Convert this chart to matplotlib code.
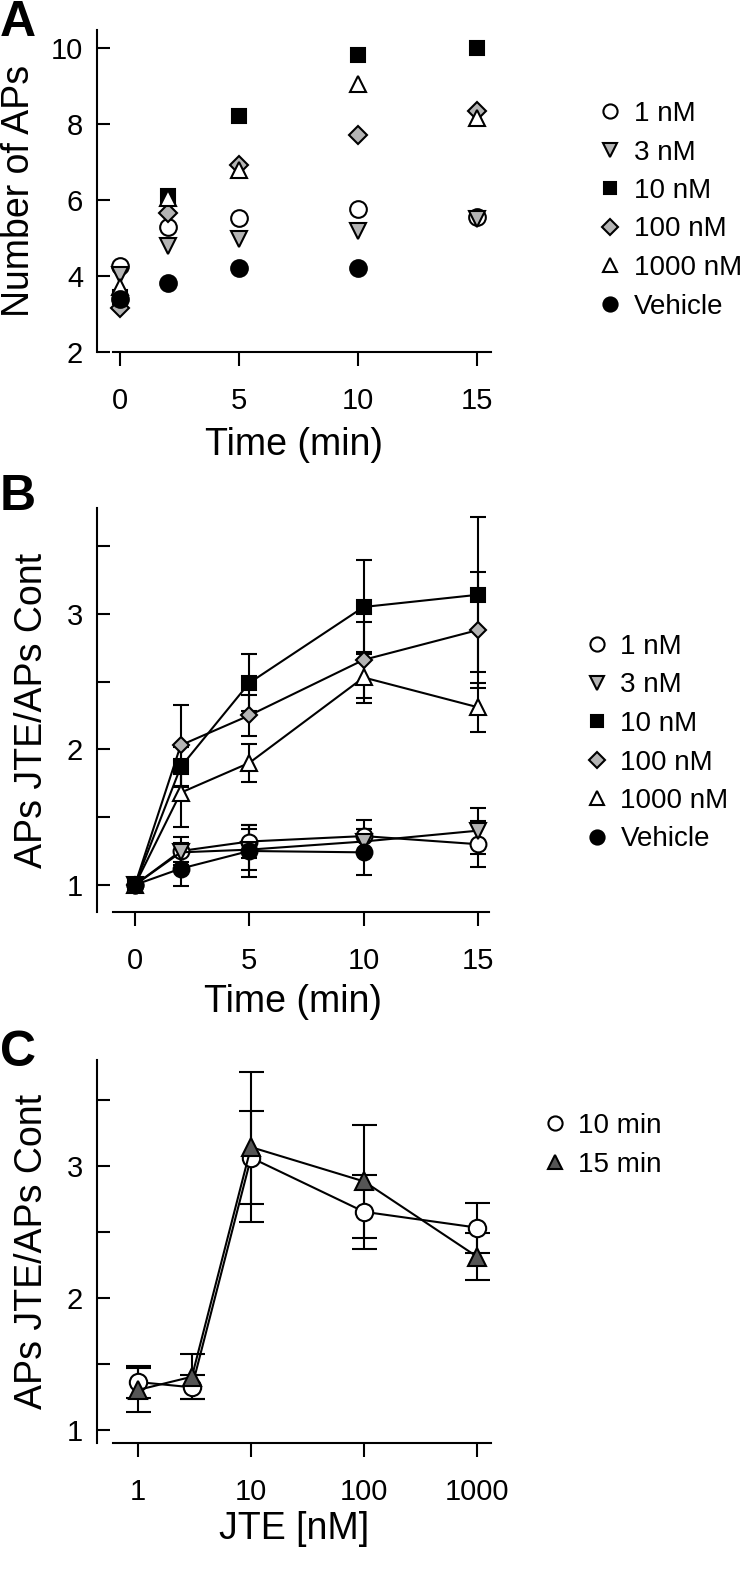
import numpy as np
import matplotlib.pyplot as plt
from matplotlib.lines import Line2D

plt.rcParams['font.family'] = ['Liberation Sans', 'DejaVu Sans']

## data
labels = ['1 nM', '3 nM', '10 nM', '100 nM', '1000 nM', 'Vehicle']
markers = ['o', 'v', 's', 'D', '^', 'o']
faces = ['white', '#b4b4b4', 'black', '#b4b4b4', 'white', 'black']
msizes = [12, 12, 10.5, 9, 12, 12]

# panel A: number of APs
time_a = [0, 2, 5, 10, 15]
a_1nM = [4.25, 5.28, 5.52, 5.75, 5.55]
a_3nM = [4.03, 4.80, 4.98, 5.18, 5.50]
a_10nM = [3.45, 6.10, 8.20, 9.80, 10.0]
a_100nM = [3.15, 5.65, 6.93, 7.72, 8.35]
a_1000nM = [3.72, 6.05, 6.78, 9.05, 8.15]
a_veh = [3.40, 3.82, 4.20, 4.20, np.nan]

# panel B: APs JTE / APs control, mean and error
time_b = [0, 2, 5, 10, 15]
b_1nM = [1, 1.25, 1.32, 1.36, 1.30]
b_1nM_err = [0, 0.10, 0.12, 0.12, 0.17]
b_3nM = [1, 1.24, 1.26, 1.32, 1.40]
b_3nM_err = [0, 0.07, 0.15, 0.09, 0.17]
b_10nM = [1, 1.87, 2.49, 3.05, 3.14]
b_10nM_err = [0, 0.15, 0.21, 0.35, 0.57]
b_100nM = [1, 2.03, 2.25, 2.66, 2.88]
b_100nM_err = [0, 0.30, 0.15, 0.28, 0.43]
b_1000nM = [1, 1.68, 1.90, 2.53, 2.31]
b_1000nM_err = [0, 0.25, 0.14, 0.19, 0.18]
b_veh = [1, 1.12, 1.25, 1.24, np.nan]
b_veh_err = [0, 0.13, 0.19, 0.17, np.nan]

# panel C: dose response
conc = [1, 3, 10, 100, 1000]
c_10min = [1.36, 1.32, 3.06, 2.65, 2.53]
c_10min_err = [0.12, 0.09, 0.35, 0.28, 0.19]
c_15min = [1.30, 1.40, 3.14, 2.88, 2.31]
c_15min_err = [0.17, 0.17, 0.57, 0.43, 0.18]

W, H = 749, 1572
fig = plt.figure(figsize=(W / 100, H / 100), dpi=100)

def px_axes(left, right, top, bottom):
    return fig.add_axes([left / W, 1 - bottom / H, (right - left) / W, (bottom - top) / H])

def style(ax):
    for s in ['top', 'right']:
        ax.spines[s].set_visible(False)
    ax.spines['left'].set_linewidth(1.5)
    ax.spines['bottom'].set_linewidth(1.5)
    ax.tick_params(axis='y', which='both', direction='in', length=9, width=1.5,
                   pad=10, labelsize=21)
    ax.tick_params(axis='x', which='both', direction='out', length=10, width=1.5,
                   pad=15, labelsize=21)

def legend(ax, x, y, handles):
    ax.legend(handles=handles, loc='upper left', bbox_to_anchor=(x / W, 1 - y / H),
              bbox_transform=fig.transFigure, frameon=False, fontsize=20,
              handlelength=1.0, handletextpad=0.35, labelspacing=0.45,
              borderpad=0, borderaxespad=0, markerscale=0.85)

def handle(m, fc, ms, lab):
    return Line2D([], [], ls='none', marker=m, mfc=fc, mec='black', mew=1.5, ms=ms, label=lab)

# ---- A
axA = px_axes(97, 491, 30, 352)
a_series = [a_1nM, a_3nM, a_10nM, a_100nM, a_1000nM, a_veh]
for ys, m, fc, ms, lab in zip(a_series, markers, faces, msizes, labels):
    axA.plot(time_a, ys, ls='none', marker=m, mfc=fc, mec='black', mew=1.5,
             ms=ms, label=lab, clip_on=False)
axA.set_xlim(-0.97, 15.59)
axA.set_ylim(2.0, 10.47)
axA.set_xticks([0, 5, 10, 15])
axA.set_yticks([2, 4, 6, 8, 10])
style(axA)
axA.spines['bottom'].set_bounds(-0.29, 15.59)
axA.set_xlabel('Time (min)', fontsize=27, labelpad=9)
axA.set_ylabel('Number of APs', fontsize=27, labelpad=10)
legend(axA, 596, 101, [handle(m, fc, ms, lab) for m, fc, ms, lab in zip(markers, faces, msizes, labels)])

# ---- B
axB = px_axes(97, 489, 508, 912)
b_series = [(b_1nM, b_1nM_err), (b_3nM, b_3nM_err), (b_10nM, b_10nM_err),
            (b_100nM, b_100nM_err), (b_1000nM, b_1000nM_err), (b_veh, b_veh_err)]
for (ys, es), m, fc, ms, lab in zip(b_series, markers, faces, msizes, labels):
    axB.errorbar(time_b, ys, yerr=es, color='black', lw=1.5, elinewidth=1.5,
                 capsize=6, capthick=1.5, marker=m, mfc=fc, mec='black', mew=1.5,
                 ms=ms * 0.95, label=lab)
axB.set_xlim(-1.66, 15.48)
axB.set_ylim(0.80, 3.78)
axB.set_xticks([0, 5, 10, 15])
axB.set_yticks([1, 2, 3])
axB.set_yticks([1.5, 2.5, 3.5], minor=True)
style(axB)
axB.spines['bottom'].set_bounds(-0.96, 15.48)
axB.set_xlabel('Time (min)', fontsize=27, labelpad=7)
axB.set_ylabel('APs JTE/APs Cont', fontsize=27, labelpad=12)
legend(axB, 583, 634, [handle(m, fc, ms, lab) for m, fc, ms, lab in zip(markers, faces, msizes, labels)])

# ---- C
axC = px_axes(97, 491, 1060, 1443)
axC.set_xscale('log')
axC.errorbar(conc, c_10min, yerr=c_10min_err, color='black', lw=1.5, elinewidth=1.5,
             capsize=9, capthick=1.5, marker='o', mfc='white', mec='black', mew=1.5,
             ms=12.5, label='10 min')
axC.errorbar(conc, c_15min, yerr=c_15min_err, color='black', lw=1.5, elinewidth=1.5,
             capsize=9, capthick=1.5, marker='^', mfc='#555555', mec='black', mew=1.5,
             ms=12.5, label='15 min')
axC.set_xlim(0.434, 1330)
axC.set_ylim(0.898, 3.80)
axC.set_xticks([1, 10, 100, 1000])
axC.set_xticklabels(['1', '10', '100', '1000'])
axC.xaxis.set_minor_locator(plt.NullLocator())
axC.set_yticks([1, 2, 3])
axC.set_yticks([1.5, 2.5, 3.5], minor=True)
style(axC)
axC.spines['bottom'].set_bounds(0.60, 1330)
axC.set_xlabel('JTE [nM]', fontsize=27, labelpad=4)
axC.set_ylabel('APs JTE/APs Cont', fontsize=27, labelpad=12)
legend(axC, 541, 1113, [handle('o', 'white', 12, '10 min'), handle('^', '#555555', 12, '15 min')])

# panel letters
for letter, y in [('A', 0), ('B', 474), ('C', 1030)]:
    fig.text(0, 1 - y / H, letter, fontsize=36, fontweight='bold', va='top', ha='left')

fig.savefig('out.png', dpi=100)
